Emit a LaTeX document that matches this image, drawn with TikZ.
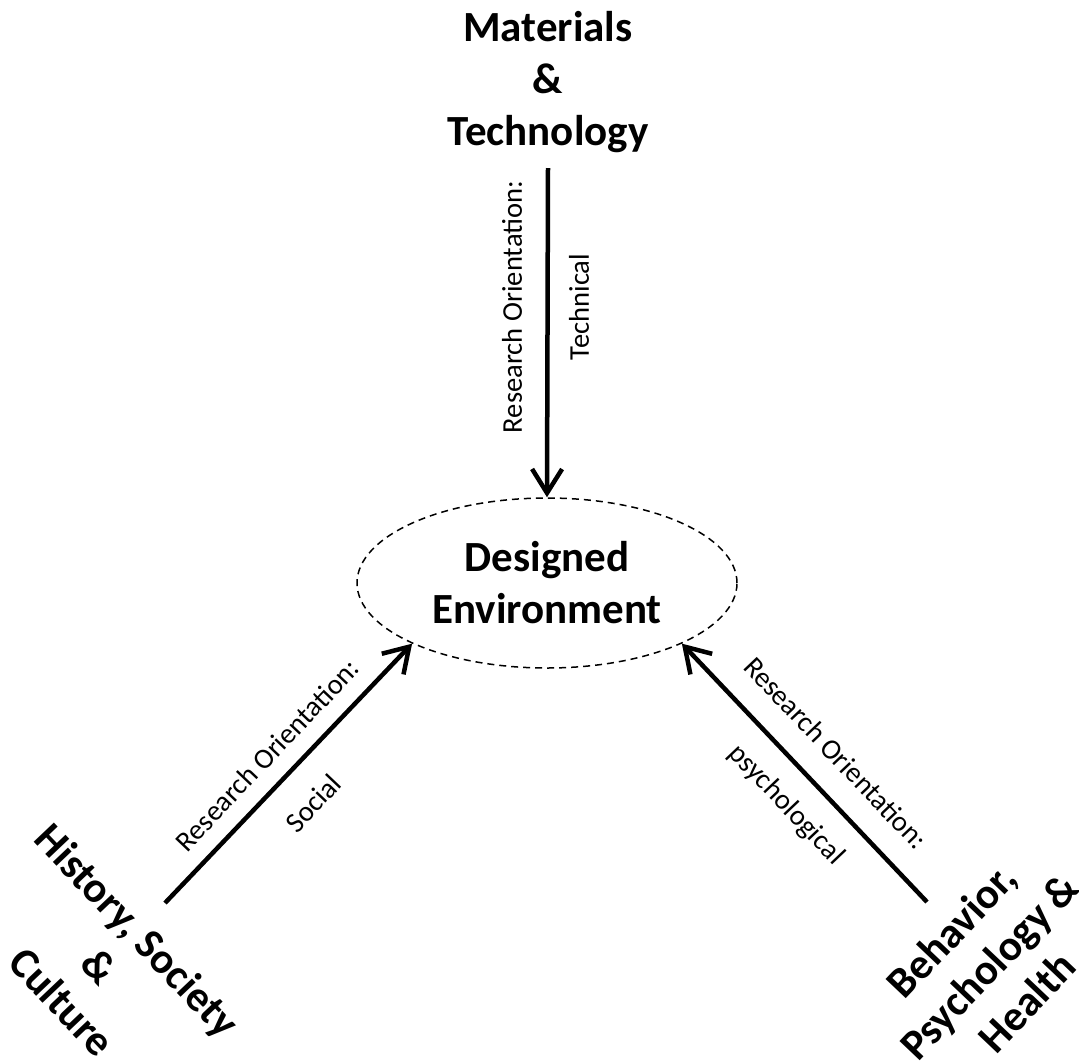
\documentclass[tikz,border=0pt]{standalone}
\usepackage{fontspec}
\setmainfont{Carlito}
\usetikzlibrary{arrows.meta,shapes.geometric}
\begin{document}
\begin{tikzpicture}[x=1pt,y=-1pt,
  big/.style={font=\fontsize{43}{52}\selectfont\bfseries, align=center, inner sep=0pt},
  small/.style={font=\fontsize{28.6}{34}\selectfont, inner sep=0pt},
  conn/.style={line width=4.5pt, -{Straight Barb[length=24pt,width=30pt]}},
  dashell/.style={draw, ellipse, minimum width=380pt, minimum height=170pt, line width=1.5pt, dash pattern=on 7pt off 5pt}
]
\useasboundingbox (0,0) rectangle (1079,1061);
\node[big] (mat) at (548,82) {Materials\\\&\\Technology};
\node[big, dashell] (de) at (547,583) {Designed\\Environment};
\node[big, rotate=-46.5] (hsc) at (100,966) {History, Society\\\&\\Culture};
\node[big, rotate=46.5] (bph) at (989,966) {Behavior,\\Psychology \&\\Health};
\coordinate (ts) at (548,168);
\coordinate (ls) at (165,903);
\coordinate (rs) at (927,902);
\draw[conn] (ts) -- (de.north);
\draw[conn] (ls) -- (de.south west);
\draw[conn] (rs) -- (de.south east);
\node[small, rotate=90] (tl1) at (512,307) {Research Orientation:};
\node[small, rotate=90] (tl2) at (579,307) {Technical};
\node[small, rotate=46.5] (ll1) at (267,755) {Research Orientation:};
\node[small, rotate=46.5] (ll2) at (313,803) {Social};
\node[small, rotate=-46.5] (rl1) at (836,753) {Research Orientation:};
\node[small, rotate=-46.5] (rl2) at (786,805) {psychological};
\end{tikzpicture}
\end{document}
